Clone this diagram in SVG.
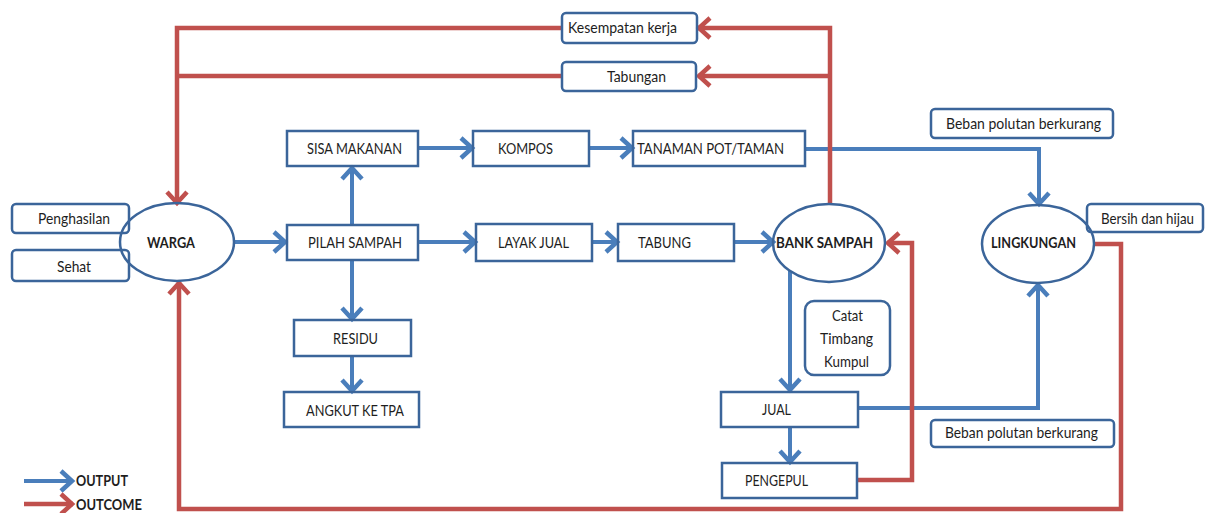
<svg xmlns="http://www.w3.org/2000/svg" width="1205" height="513" viewBox="0 0 1205 513">
<style>
.box{fill:none;stroke:#3B659A;stroke-width:2.5}
.ell{fill:none;stroke:#3B659A;stroke-width:2.5}
.t{font-family:Lato,"Liberation Sans",sans-serif;font-size:15px;fill:#1e1e1e}
.b{font-weight:bold}
.bl{fill:none;stroke:#4A7EBB;stroke-width:4}
.rd{fill:none;stroke:#C0504D;stroke-width:4.5}
</style>
<defs>
<marker id="ab" markerUnits="userSpaceOnUse" markerWidth="30" markerHeight="30" refX="0" refY="0" orient="auto" overflow="visible"><path d="M-12,-10 L-1,0 L-12,10" fill="none" stroke="#4A7EBB" stroke-width="4.5"/></marker>
<marker id="ar" markerUnits="userSpaceOnUse" markerWidth="30" markerHeight="30" refX="0" refY="0" orient="auto" overflow="visible"><path d="M-12,-10 L-1,0 L-12,10" fill="none" stroke="#C0504D" stroke-width="4.5"/></marker>
</defs>
<rect width="1205" height="513" fill="#fff"/>
<g id="connectors">
<path class="bl" d="M233,242 H286" marker-end="url(#ab)"/>
<path class="bl" d="M352,226 V167" marker-end="url(#ab)"/>
<path class="bl" d="M352,259 V320" marker-end="url(#ab)"/>
<path class="bl" d="M352,356 V392" marker-end="url(#ab)"/>
<path class="bl" d="M418,148 H473" marker-end="url(#ab)"/>
<path class="bl" d="M589,148 H633" marker-end="url(#ab)"/>
<path class="bl" d="M805,149 H1039 V205" marker-end="url(#ab)"/>
<path class="bl" d="M418,242 H476" marker-end="url(#ab)"/>
<path class="bl" d="M592,242 H618" marker-end="url(#ab)"/>
<path class="bl" d="M734,242 H774" marker-end="url(#ab)"/>
<path class="bl" d="M790,271 V391" marker-end="url(#ab)"/>
<path class="bl" d="M790,427 V463" marker-end="url(#ab)"/>
<path class="bl" d="M858,408 H1038 V284" marker-end="url(#ab)"/>
<path class="rd" d="M830,204 V28 H698" marker-end="url(#ar)"/>
<path class="rd" d="M830,76 H698" marker-end="url(#ar)"/>
<path class="rd" d="M562,28 H177 V204" marker-end="url(#ar)"/>
<path class="rd" d="M562,76 H177"/>
<path class="rd" d="M1095,244 H1121 V509 H179 V282" marker-end="url(#ar)"/>
<path class="rd" d="M857,480 H912 V243 H887" marker-end="url(#ar)"/>
</g>
<g id="warga"><ellipse class="ell" cx="177" cy="242" rx="57" ry="39"/><text class="t b" x="147" y="248" textLength="48" lengthAdjust="spacingAndGlyphs">WARGA</text></g>
<g id="penghasilan"><rect class="box" x="12" y="204" width="117" height="29" rx="4"/><text class="t" x="38" y="224" textLength="72" lengthAdjust="spacingAndGlyphs">Penghasilan</text></g>
<g id="sehat"><rect class="box" x="12" y="250" width="117" height="31" rx="4"/><text class="t" x="57" y="272" textLength="34" lengthAdjust="spacingAndGlyphs">Sehat</text></g>
<g id="kesempatan"><rect class="box" x="562" y="13" width="135" height="30" rx="4"/><text class="t" x="568" y="33" textLength="109" lengthAdjust="spacingAndGlyphs">Kesempatan kerja</text></g>
<g id="tabungan"><rect class="box" x="562" y="62" width="134" height="29" rx="4"/><text class="t" x="607" y="82" textLength="59" lengthAdjust="spacingAndGlyphs">Tabungan</text></g>
<g id="sisa"><rect class="box" x="287" y="131" width="131" height="35"/><text class="t" x="307" y="154" textLength="95" lengthAdjust="spacingAndGlyphs">SISA MAKANAN</text></g>
<g id="kompos"><rect class="box" x="473" y="131" width="116" height="35"/><text class="t" x="498" y="154" textLength="55" lengthAdjust="spacingAndGlyphs">KOMPOS</text></g>
<g id="tanaman"><rect class="box" x="633" y="131" width="172" height="35"/><text class="t" x="637" y="154" textLength="147" lengthAdjust="spacingAndGlyphs">TANAMAN POT/TAMAN</text></g>
<g id="pilah"><rect class="box" x="287" y="225" width="131" height="35"/><text class="t" x="308" y="248" textLength="94" lengthAdjust="spacingAndGlyphs">PILAH SAMPAH</text></g>
<g id="layak"><rect class="box" x="476" y="224" width="116" height="37"/><text class="t" x="498" y="248" textLength="71" lengthAdjust="spacingAndGlyphs">LAYAK JUAL</text></g>
<g id="tabung"><rect class="box" x="618" y="224" width="116" height="37"/><text class="t" x="638" y="248" textLength="53" lengthAdjust="spacingAndGlyphs">TABUNG</text></g>
<g id="residu"><rect class="box" x="294" y="320" width="117" height="36"/><text class="t" x="333" y="344" textLength="45" lengthAdjust="spacingAndGlyphs">RESIDU</text></g>
<g id="angkut"><rect class="box" x="284" y="392" width="135" height="35"/><text class="t" x="306" y="416" textLength="98" lengthAdjust="spacingAndGlyphs">ANGKUT KE TPA</text></g>
<g id="bank"><ellipse class="ell" cx="829" cy="243" rx="56" ry="39"/><text class="t b" x="776" y="248" textLength="97" lengthAdjust="spacingAndGlyphs">BANK SAMPAH</text></g>
<g id="lingkungan"><ellipse class="ell" cx="1038" cy="244" rx="56" ry="39"/><text class="t b" x="991" y="248" textLength="85" lengthAdjust="spacingAndGlyphs">LINGKUNGAN</text></g>
<g id="beban1"><rect class="box" x="931" y="109" width="182" height="29" rx="4"/><text class="t" x="946" y="129" textLength="155" lengthAdjust="spacingAndGlyphs">Beban polutan berkurang</text></g>
<g id="bersih"><rect class="box" x="1087" y="204" width="116" height="28" rx="4"/><text class="t" x="1101" y="224" textLength="93" lengthAdjust="spacingAndGlyphs">Bersih dan hijau</text></g>
<g id="catat"><rect class="box" x="805" y="301" width="85" height="74" rx="9"/><text class="t" x="832" y="321" textLength="31" lengthAdjust="spacingAndGlyphs">Catat</text><text class="t" x="820" y="344" textLength="53" lengthAdjust="spacingAndGlyphs">Timbang</text><text class="t" x="824" y="367" textLength="45" lengthAdjust="spacingAndGlyphs">Kumpul</text></g>
<g id="jual"><rect class="box" x="721" y="392" width="137" height="35"/><text class="t" x="762" y="415" textLength="29" lengthAdjust="spacingAndGlyphs">JUAL</text></g>
<g id="pengepul"><rect class="box" x="722" y="463" width="135" height="35"/><text class="t" x="745" y="486" textLength="63" lengthAdjust="spacingAndGlyphs">PENGEPUL</text></g>
<g id="beban2"><rect class="box" x="931" y="420" width="183" height="27" rx="4"/><text class="t" x="945" y="438" textLength="153" lengthAdjust="spacingAndGlyphs">Beban polutan berkurang</text></g>
<g id="legend">
<path class="bl" d="M24,481 H73" marker-end="url(#ab)"/>
<path class="rd" d="M24,504 H73" marker-end="url(#ar)"/>
<text class="t b" x="76" y="486" textLength="52" lengthAdjust="spacingAndGlyphs">OUTPUT</text>
<text class="t b" x="76" y="510" textLength="66" lengthAdjust="spacingAndGlyphs">OUTCOME</text>
</g>
</svg>
